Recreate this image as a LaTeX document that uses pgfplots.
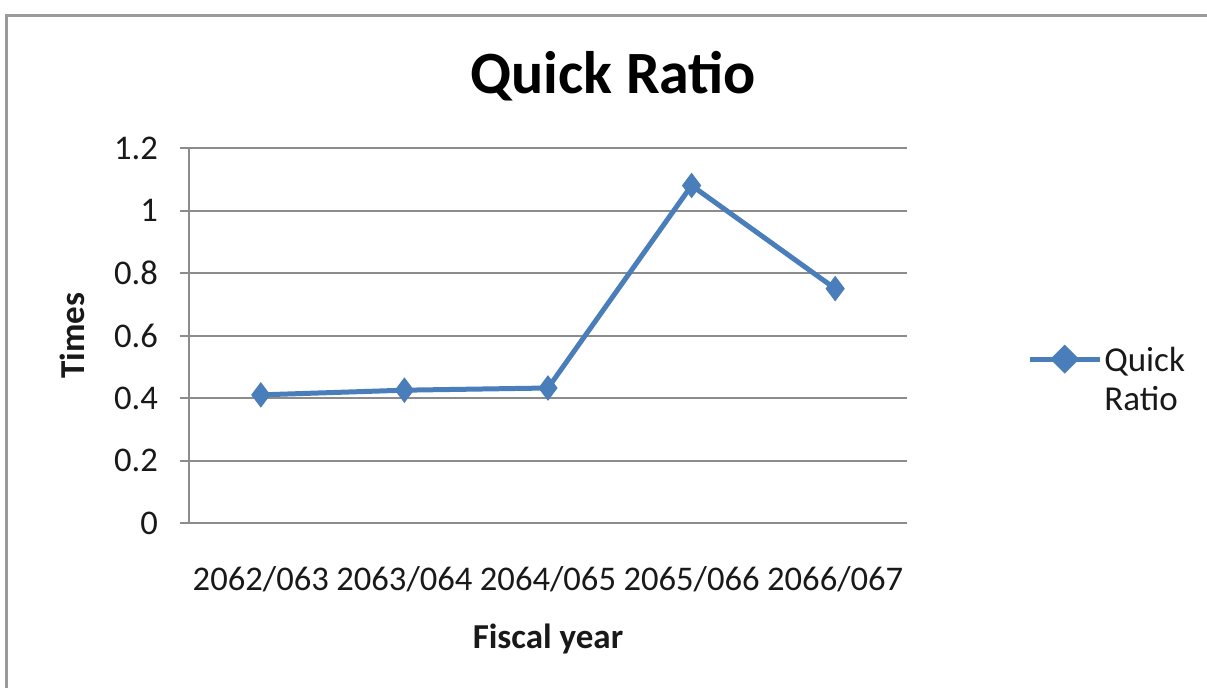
\documentclass[border=0pt]{standalone}
\usepackage{fontspec}
\setmainfont{Carlito}
\usepackage{pgfplots}
\pgfplotsset{compat=1.18}
\definecolor{qblue}{RGB}{74,126,187}
\definecolor{gridg}{RGB}{140,140,140}
\definecolor{frameg}{RGB}{155,155,155}
\definecolor{txt}{RGB}{25,25,25}
\begin{document}
\begin{tikzpicture}[x=1pt,y=1pt]
\useasboundingbox (0,0) rectangle (603.5,343.5);
\fill[white] (0,0) rectangle (603.5,343.5);
\draw[frameg, line width=1.5pt] (3,-5) -- (3,335.5) -- (610,335.5);
\begin{axis}[
  at={(94.5pt,82pt)}, anchor=south west,
  scale only axis, width=359pt, height=187.5pt,
  xmin=-0.5, xmax=4.5, ymin=0, ymax=1.2,
  xtick={0,1,2,3,4},
  xticklabels={2062/063,2063/064,2064/065,2065/066,2066/067},
  ytick={0,0.2,0.4,0.6,0.8,1,1.2},
  yticklabels={0,0.2,0.4,0.6,0.8,1,1.2},
  axis x line*=bottom, axis y line*=left,
  axis line style={gridg, line width=1pt, -},
  ymajorgrids, grid style={gridg, line width=1pt},
  xtick style={draw=none},
  ytick style={gridg, line width=1pt},
  tick align=outside, major tick length=4.5pt,
  tick label style={font=\fontsize{17.3}{21}\selectfont, text=txt},
  xticklabel style={anchor=base, yshift=-29pt},
  yticklabel style={anchor=east, xshift=-7.5pt},
  xlabel={Fiscal year}, ylabel={Times},
  label style={font=\fontsize{17.5}{21}\selectfont\bfseries, text=txt},
  xlabel style={at={(axis description cs:0.5,-0.31)}, anchor=center},
  ylabel style={at={(axis description cs:-0.163,0.5)}, anchor=center},
  title={Quick Ratio},
  title style={at={(axis description cs:0.591,1.16)}, anchor=center, font=\fontsize{30}{36}\selectfont\bfseries, text=black},
  legend style={at={(axis description cs:1.167,0.437)}, anchor=west, draw=none, fill=none,
    font=\fontsize{17.5}{19.5}\selectfont, text=txt, inner sep=0pt, row sep=0pt,
    nodes={inner xsep=1pt}},
  legend cell align=left,
  legend image code/.code={
    \draw[qblue, line width=2.5pt] (0pt,0pt) -- (35pt,0pt);
    \fill[qblue] (17.5pt,0pt) ++(0,5.5pt) -- ++(5.5pt,-5.5pt) -- ++(-5.5pt,-5.5pt) -- ++(-5.5pt,5.5pt) -- cycle;
  },
  clip=false,
]
\addplot[qblue, line width=2.5pt, mark=diamond*, mark size=6pt, mark options={fill=qblue, draw=qblue, line width=0.5pt}]
  coordinates {(0,0.41) (1,0.425) (2,0.432) (3,1.08) (4,0.75)};
\addlegendentry{\begin{tabular}[t]{@{}l@{}}Quick\\Ratio\end{tabular}}
\end{axis}
\end{tikzpicture}
\end{document}
